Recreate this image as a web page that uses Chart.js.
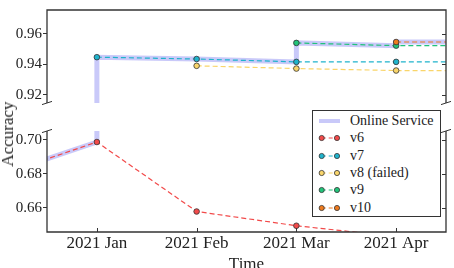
<!DOCTYPE html>
<html>
<head>
<meta charset="utf-8">
<script src="https://cdn.jsdelivr.net/npm/chart.js@4/dist/chart.umd.min.js"></script>
<style>
  html, body { margin:0; padding:0; background:#fff; }
  #wrap { position:relative; width:454px; height:268px; overflow:hidden; font-family:'Liberation Serif', serif; color:#222; }
  canvas { position:absolute; left:0; top:0; }
  #ylab { position:absolute; left:8px; top:134px; transform:translate(-50%,-50%) rotate(-90deg); font-size:17px; white-space:nowrap; }
  #legend { position:absolute; left:312px; top:110px; width:127px; height:105px; border:1.2px solid #333; background:#fff; }
  .row { position:absolute; left:0; height:16px; width:100%; }
  .row svg { position:absolute; left:0; top:0; }
  .row span { position:absolute; left:37px; top:0; font-size:14px; line-height:16px; white-space:nowrap; }
</style>
</head>
<body>
<div id="wrap">
  <canvas id="top" width="454" height="268"></canvas>
  <canvas id="bot" width="454" height="268"></canvas>
  <div id="ylab">Accuracy</div>
  <div id="legend"></div>
</div>
<script>
// ---- data (x = month index: -1 = 2020 Dec, 0 = 2021 Jan, ... 4 = 2021 May) ----
const monthLabels = ['2021 Jan', '2021 Feb', '2021 Mar', '2021 Apr'];
const monthTicks = [0, 1, 2, 3];
const topYTicks = [0.92, 0.94, 0.96];
const botYTicks = [0.66, 0.68, 0.70];

const onlineX = [-1, 0, 0, 1, 2, 2, 3, 3, 4];
const onlineY = [0.6788, 0.6988, 0.9447, 0.9435, 0.9416, 0.9541, 0.9523, 0.9547, 0.9547];
const v6X = [-1, 0, 1, 2, 3];
const v6Y = [0.6788, 0.6988, 0.6578, 0.6494, 0.6430];
const v7X = [0, 1, 2, 3, 4];
const v7Y = [0.9447, 0.9435, 0.9416, 0.9416, 0.9416];
const v8X = [1, 2, 3, 4];
const v8Y = [0.9390, 0.9372, 0.9359, 0.9358];
const v9X = [2, 3, 4];
const v9Y = [0.9541, 0.9523, 0.9523];
const v10X = [3, 4];
const v10Y = [0.9547, 0.9547];

const seriesNames = ['Online Service', 'v6', 'v7', 'v8 (failed)', 'v9', 'v10'];
const colors = {
  online: 'rgba(192,192,248,0.85)',
  v6: '#f24a4a',
  v7: '#1fb3cc',
  v8: '#f9d56a',
  v9: '#22c47a',
  v10: '#ee7a1e'
};

function pts(xs, ys) { return xs.map((x, i) => ({ x: x, y: ys[i] })); }

function makeDatasets() {
  const dashed = (label, xs, ys, col, order) => ({
    label, data: pts(xs, ys), borderColor: col, backgroundColor: col,
    borderWidth: 1.2, borderDash: [5, 3], pointRadius: 2.8, pointBorderColor: '#333',
    pointBorderWidth: 0.8, pointBackgroundColor: col, tension: 0, order
  });
  return [
    { label: seriesNames[0], data: pts(onlineX, onlineY), borderColor: colors.online,
      borderWidth: 5, pointRadius: 0, tension: 0, order: 10, borderCapStyle: 'butt' },
    dashed(seriesNames[1], v6X, v6Y, colors.v6, 5),
    dashed(seriesNames[2], v7X, v7Y, colors.v7, 4),
    dashed(seriesNames[3], v8X, v8Y, colors.v8, 3),
    dashed(seriesNames[4], v9X, v9Y, colors.v9, 2),
    dashed(seriesNames[5], v10X, v10Y, colors.v10, 1)
  ];
}

const FONT = 'Liberation Serif';
const AX = '#333';

function framePlugin(isTop) {
  return {
    id: 'frame' + (isTop ? 'T' : 'B'),
    afterDraw(chart) {
      const ctx = chart.ctx, a = chart.chartArea;
      ctx.save();
      ctx.strokeStyle = AX; ctx.lineWidth = 1.3; ctx.lineCap = 'butt';
      ctx.beginPath();
      if (isTop) {
        ctx.moveTo(a.left, a.bottom); ctx.lineTo(a.left, a.top);
        ctx.lineTo(a.right, a.top); ctx.lineTo(a.right, a.bottom);
      } else {
        ctx.moveTo(a.left, a.top); ctx.lineTo(a.left, a.bottom);
        ctx.lineTo(a.right, a.bottom); ctx.lineTo(a.right, a.top);
      }
      ctx.stroke();
      // inward right ticks
      const ys = chart.scales.y;
      ctx.lineWidth = 1;
      ctx.beginPath();
      ys.ticks.forEach(t => {
        const py = Math.round(ys.getPixelForValue(t.value)) + 0.5;
        ctx.moveTo(a.right - 4, py); ctx.lineTo(a.right, py);
      });
      if (!isTop) {
        const xs = chart.scales.x;
        xs.ticks.forEach(t => {
          const px = Math.round(xs.getPixelForValue(t.value)) + 0.5;
          ctx.moveTo(px, a.bottom - 4); ctx.lineTo(px, a.bottom);
        });
      }
      ctx.stroke();
      // break marks
      const y0 = isTop ? a.bottom : a.top;
      ctx.beginPath();
      [a.left, a.right].forEach(x0 => {
        ctx.moveTo(x0 - 5, y0 + 1.6); ctx.lineTo(x0 + 5, y0 - 1.6);
      });
      ctx.stroke();
      ctx.restore();
    }
  };
}

function makeChart(id, isTop) {
  const yTicks = isTop ? topYTicks : botYTicks;
  return new Chart(document.getElementById(id), {
    type: 'line',
    data: { datasets: makeDatasets() },
    options: {
      responsive: false, animation: false, devicePixelRatio: 1,
      layout: { padding: isTop ? { top: 2, left: 0, right: 8, bottom: 165 } : { top: 131, left: 0, right: 8, bottom: 0 } },
      plugins: { legend: { display: false }, tooltip: { enabled: false } },
      scales: {
        x: {
          type: 'linear', min: -0.5, max: 3.5, display: !isTop,
          afterBuildTicks: s => { s.ticks = monthTicks.map(v => ({ value: v })); },
          afterFit: s => { if (!isTop) s.height = 36; },
          ticks: { callback: (v, i) => monthLabels[i], font: { family: FONT, size: 17 }, color: '#222', padding: 1, maxRotation: 0, autoSkip: false },
          grid: { drawOnChartArea: false, drawTicks: false },
          border: { display: false },
          title: { display: true, text: 'Time', font: { family: FONT, size: 17 }, color: '#222', padding: { top: 0, bottom: -7 } }
        },
        y: {
          type: 'linear',
          min: isTop ? 0.9145 : 0.6457,
          max: isTop ? 0.9758 : 0.7053,
          afterBuildTicks: s => { s.ticks = yTicks.map(v => ({ value: v })); },
          afterFit: s => { s.width = 47; },
          ticks: { callback: v => v.toFixed(2), font: { family: FONT, size: 15 }, color: '#222', padding: 1 },
          grid: { drawOnChartArea: false, drawTicks: true, tickLength: 4, color: AX, tickWidth: 1 },
          border: { display: false }
        }
      }
    },
    plugins: [framePlugin(isTop)]
  });
}

makeChart('top', true);
makeChart('bot', false);

// ---- legend ----
const leg = document.getElementById('legend');
const legColors = [colors.online, colors.v6, colors.v7, colors.v8, colors.v9, colors.v10];
seriesNames.forEach((name, i) => {
  const row = document.createElement('div');
  row.className = 'row';
  row.style.top = (2 + i * 17.3) + 'px';
  let svg;
  if (i === 0) {
    svg = `<svg width="34" height="16"><line x1="6" y1="8" x2="27" y2="8" stroke="${legColors[i]}" stroke-width="4"/></svg>`;
  } else {
    const c = legColors[i];
    svg = `<svg width="34" height="16"><line x1="8.7" y1="8" x2="24" y2="8" stroke="${c}" stroke-width="1.2" stroke-dasharray="4 3"/>` +
      `<circle cx="8.7" cy="8" r="2.6" fill="${c}" stroke="#333" stroke-width="0.8"/>` +
      `<circle cx="24" cy="8" r="2.6" fill="${c}" stroke="#333" stroke-width="0.8"/></svg>`;
  }
  row.innerHTML = svg + `<span>${name}</span>`;
  leg.appendChild(row);
});
</script>
</body>
</html>
